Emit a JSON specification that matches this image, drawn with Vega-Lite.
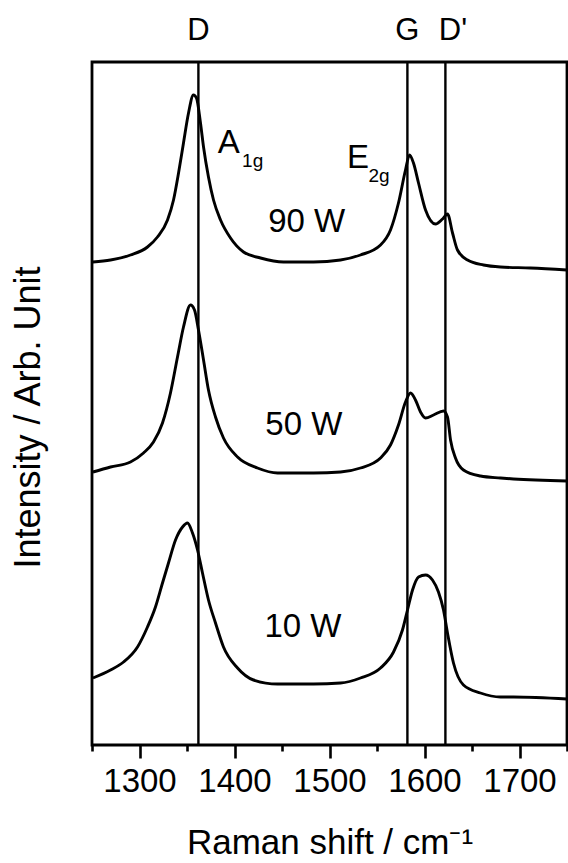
{
  "$schema": "https://vega.github.io/schema/vega-lite/v6.json",
  "width": 475,
  "height": 683,
  "autosize": {"type": "none"},
  "padding": {"left": 92, "top": 62, "right": 1, "bottom": 118},
  "background": "white",
  "config": {
    "font": "Liberation Sans",
    "view": {"stroke": "black", "strokeWidth": 2.8},
    "axis": {"labelColor": "black", "titleColor": "black", "tickColor": "black", "domainColor": "black", "grid": false, "labelFont": "Liberation Sans", "titleFont": "Liberation Sans", "titleFontWeight": "normal"},
    "text": {"font": "Liberation Sans", "color": "black"}
  },
  "datasets": {
    "spectra": [
      {"s": "90 W", "x": 1251, "y": 483},
      {"s": "90 W", "x": 1269.5, "y": 485},
      {"s": "90 W", "x": 1290.5, "y": 490},
      {"s": "90 W", "x": 1308.4, "y": 498},
      {"s": "90 W", "x": 1318.9, "y": 508},
      {"s": "90 W", "x": 1329.5, "y": 525},
      {"s": "90 W", "x": 1335.8, "y": 545},
      {"s": "90 W", "x": 1341.1, "y": 572},
      {"s": "90 W", "x": 1346.3, "y": 602},
      {"s": "90 W", "x": 1351.6, "y": 632},
      {"s": "90 W", "x": 1356.8, "y": 650},
      {"s": "90 W", "x": 1360, "y": 647},
      {"s": "90 W", "x": 1364.2, "y": 622},
      {"s": "90 W", "x": 1367.4, "y": 598},
      {"s": "90 W", "x": 1372.6, "y": 568},
      {"s": "90 W", "x": 1377.9, "y": 545},
      {"s": "90 W", "x": 1385.3, "y": 525},
      {"s": "90 W", "x": 1395.8, "y": 507},
      {"s": "90 W", "x": 1409.5, "y": 493},
      {"s": "90 W", "x": 1427.4, "y": 487},
      {"s": "90 W", "x": 1451.6, "y": 483},
      {"s": "90 W", "x": 1483.2, "y": 483},
      {"s": "90 W", "x": 1511.6, "y": 485},
      {"s": "90 W", "x": 1532.6, "y": 490},
      {"s": "90 W", "x": 1553.7, "y": 500},
      {"s": "90 W", "x": 1564.2, "y": 515},
      {"s": "90 W", "x": 1572.6, "y": 542},
      {"s": "90 W", "x": 1580, "y": 575},
      {"s": "90 W", "x": 1584.2, "y": 590},
      {"s": "90 W", "x": 1588.4, "y": 582},
      {"s": "90 W", "x": 1593.7, "y": 562},
      {"s": "90 W", "x": 1601.1, "y": 535},
      {"s": "90 W", "x": 1611.6, "y": 521},
      {"s": "90 W", "x": 1619, "y": 526},
      {"s": "90 W", "x": 1624.2, "y": 531},
      {"s": "90 W", "x": 1629.5, "y": 512},
      {"s": "90 W", "x": 1634.7, "y": 495},
      {"s": "90 W", "x": 1645.3, "y": 485},
      {"s": "90 W", "x": 1662.1, "y": 480},
      {"s": "90 W", "x": 1680, "y": 478},
      {"s": "90 W", "x": 1711.6, "y": 477},
      {"s": "90 W", "x": 1750, "y": 475},
      {"s": "50 W", "x": 1251, "y": 273},
      {"s": "50 W", "x": 1269.5, "y": 278},
      {"s": "50 W", "x": 1290.5, "y": 283},
      {"s": "50 W", "x": 1304.2, "y": 292},
      {"s": "50 W", "x": 1314.7, "y": 303},
      {"s": "50 W", "x": 1324.2, "y": 322},
      {"s": "50 W", "x": 1332.6, "y": 352},
      {"s": "50 W", "x": 1340, "y": 388},
      {"s": "50 W", "x": 1346.3, "y": 418},
      {"s": "50 W", "x": 1353.7, "y": 440},
      {"s": "50 W", "x": 1357.9, "y": 435},
      {"s": "50 W", "x": 1362.1, "y": 415},
      {"s": "50 W", "x": 1367.4, "y": 385},
      {"s": "50 W", "x": 1372.6, "y": 355},
      {"s": "50 W", "x": 1380, "y": 328},
      {"s": "50 W", "x": 1388.4, "y": 307},
      {"s": "50 W", "x": 1403.2, "y": 288},
      {"s": "50 W", "x": 1424.2, "y": 277},
      {"s": "50 W", "x": 1445.3, "y": 272},
      {"s": "50 W", "x": 1483.2, "y": 272},
      {"s": "50 W", "x": 1511.6, "y": 273},
      {"s": "50 W", "x": 1532.6, "y": 277},
      {"s": "50 W", "x": 1553.7, "y": 287},
      {"s": "50 W", "x": 1564.2, "y": 300},
      {"s": "50 W", "x": 1572.6, "y": 320},
      {"s": "50 W", "x": 1580, "y": 343},
      {"s": "50 W", "x": 1585.3, "y": 352},
      {"s": "50 W", "x": 1590.5, "y": 345},
      {"s": "50 W", "x": 1595.8, "y": 333},
      {"s": "50 W", "x": 1601.1, "y": 327},
      {"s": "50 W", "x": 1609.5, "y": 330},
      {"s": "50 W", "x": 1620, "y": 334},
      {"s": "50 W", "x": 1624.2, "y": 328},
      {"s": "50 W", "x": 1627.4, "y": 305},
      {"s": "50 W", "x": 1632.6, "y": 287},
      {"s": "50 W", "x": 1641, "y": 275},
      {"s": "50 W", "x": 1658.9, "y": 269},
      {"s": "50 W", "x": 1680, "y": 267},
      {"s": "50 W", "x": 1693.7, "y": 266},
      {"s": "50 W", "x": 1750, "y": 264},
      {"s": "10 W", "x": 1251, "y": 67},
      {"s": "10 W", "x": 1269.5, "y": 75},
      {"s": "10 W", "x": 1283.2, "y": 83},
      {"s": "10 W", "x": 1297.9, "y": 98},
      {"s": "10 W", "x": 1308.4, "y": 118},
      {"s": "10 W", "x": 1316.8, "y": 138},
      {"s": "10 W", "x": 1324.2, "y": 162},
      {"s": "10 W", "x": 1330.5, "y": 182},
      {"s": "10 W", "x": 1337.9, "y": 205},
      {"s": "10 W", "x": 1345.3, "y": 218},
      {"s": "10 W", "x": 1350.5, "y": 222},
      {"s": "10 W", "x": 1355.8, "y": 212},
      {"s": "10 W", "x": 1361.1, "y": 195},
      {"s": "10 W", "x": 1366.3, "y": 172},
      {"s": "10 W", "x": 1372.6, "y": 145},
      {"s": "10 W", "x": 1380, "y": 122},
      {"s": "10 W", "x": 1388.4, "y": 98},
      {"s": "10 W", "x": 1403.2, "y": 77},
      {"s": "10 W", "x": 1420, "y": 65},
      {"s": "10 W", "x": 1445.3, "y": 61},
      {"s": "10 W", "x": 1483.2, "y": 61},
      {"s": "10 W", "x": 1511.6, "y": 62},
      {"s": "10 W", "x": 1532.6, "y": 67},
      {"s": "10 W", "x": 1553.7, "y": 77},
      {"s": "10 W", "x": 1567.4, "y": 93},
      {"s": "10 W", "x": 1576.8, "y": 115},
      {"s": "10 W", "x": 1582.1, "y": 135},
      {"s": "10 W", "x": 1587.4, "y": 155},
      {"s": "10 W", "x": 1593.7, "y": 168},
      {"s": "10 W", "x": 1601.1, "y": 170},
      {"s": "10 W", "x": 1608.4, "y": 165},
      {"s": "10 W", "x": 1614.7, "y": 153},
      {"s": "10 W", "x": 1620, "y": 135},
      {"s": "10 W", "x": 1624.2, "y": 112},
      {"s": "10 W", "x": 1630.5, "y": 82},
      {"s": "10 W", "x": 1641, "y": 60},
      {"s": "10 W", "x": 1658.9, "y": 52},
      {"s": "10 W", "x": 1680, "y": 48},
      {"s": "10 W", "x": 1693.7, "y": 48},
      {"s": "10 W", "x": 1750, "y": 46}
    ],
    "peaks": [
      {"band": "D", "x": 1362},
      {"band": "G", "x": 1582},
      {"band": "D'", "x": 1622}
    ],
    "labels": [
      {"t": "D", "x": 1362, "y": 705, "k": "top"},
      {"t": "G", "x": 1582, "y": 705, "k": "top"},
      {"t": "D'", "x": 1630, "y": 705, "k": "top"},
      {"t": "A", "x": 1394, "y": 592, "k": "main"},
      {"t": "E", "x": 1530, "y": 577, "k": "main"},
      {"t": "90 W", "x": 1476, "y": 513, "k": "main"},
      {"t": "50 W", "x": 1473, "y": 310, "k": "main"},
      {"t": "10 W", "x": 1472, "y": 108, "k": "main"},
      {"t": "1g", "x": 1408, "y": 578, "k": "sub"},
      {"t": "2g", "x": 1541, "y": 563, "k": "sub"}
    ]
  },
  "resolve": {"axis": {"x": "independent", "y": "independent"}},
  "layer": [
    {
      "data": {"name": "peaks"},
      "mark": {"type": "rule", "color": "black", "strokeWidth": 2.4},
      "encoding": {
        "x": {
          "field": "x", "type": "quantitative",
          "scale": {"domain": [1250, 1750], "nice": false, "zero": false},
          "axis": {
            "orient": "bottom",
            "values": [1300, 1400, 1500, 1600, 1700],
            "format": "d",
            "tickSize": 13, "tickWidth": 2.6,
            "labelFontSize": 33, "labelPadding": 7, "labelFlush": false,
            "domain": false,
            "title": "Raman shift / cm⁻¹",
            "titleFontSize": 35, "titleY": 108, "titleBaseline": "alphabetic"
          }
        }
      }
    },
    {
      "data": {"name": "spectra"},
      "mark": {"type": "line", "color": "black", "strokeWidth": 2.9, "interpolate": "monotone"},
      "encoding": {
        "x": {
          "field": "x", "type": "quantitative",
          "scale": {"domain": [1250, 1750], "nice": false, "zero": false},
          "axis": {
            "orient": "bottom",
            "values": [1250, 1350, 1450, 1550, 1650, 1750],
            "tickSize": 6, "tickWidth": 2.6,
            "labels": false, "domain": false, "title": null
          }
        },
        "y": {
          "field": "y", "type": "quantitative",
          "scale": {"domain": [0, 683], "nice": false, "zero": false},
          "axis": {
            "orient": "left",
            "labels": false, "ticks": false, "domain": false,
            "title": "Intensity / Arb. Unit",
            "titleFontSize": 36,
            "titleX": -53, "titleY": 355,
            "titleAngle": 270, "titleAlign": "center", "titleBaseline": "alphabetic"
          }
        },
        "detail": {"field": "s"}
      }
    },
    {
      "data": {"name": "labels"},
      "transform": [{"filter": "datum.k === 'top'"}],
      "mark": {"type": "text", "fontSize": 31, "align": "center", "baseline": "alphabetic"},
      "encoding": {
        "x": {"field": "x", "type": "quantitative", "scale": {"domain": [1250, 1750], "nice": false, "zero": false}, "axis": null},
        "y": {"field": "y", "type": "quantitative", "scale": {"domain": [0, 683], "nice": false, "zero": false}, "axis": null},
        "text": {"field": "t"}
      }
    },
    {
      "data": {"name": "labels"},
      "transform": [{"filter": "datum.k === 'main'"}],
      "mark": {"type": "text", "fontSize": 33, "align": "center", "baseline": "alphabetic"},
      "encoding": {
        "x": {"field": "x", "type": "quantitative", "scale": {"domain": [1250, 1750], "nice": false, "zero": false}, "axis": null},
        "y": {"field": "y", "type": "quantitative", "scale": {"domain": [0, 683], "nice": false, "zero": false}, "axis": null},
        "text": {"field": "t"}
      }
    },
    {
      "data": {"name": "labels"},
      "transform": [{"filter": "datum.k === 'sub'"}],
      "mark": {"type": "text", "fontSize": 19, "align": "left", "baseline": "alphabetic"},
      "encoding": {
        "x": {"field": "x", "type": "quantitative", "scale": {"domain": [1250, 1750], "nice": false, "zero": false}, "axis": null},
        "y": {"field": "y", "type": "quantitative", "scale": {"domain": [0, 683], "nice": false, "zero": false}, "axis": null},
        "text": {"field": "t"}
      }
    }
  ]
}
